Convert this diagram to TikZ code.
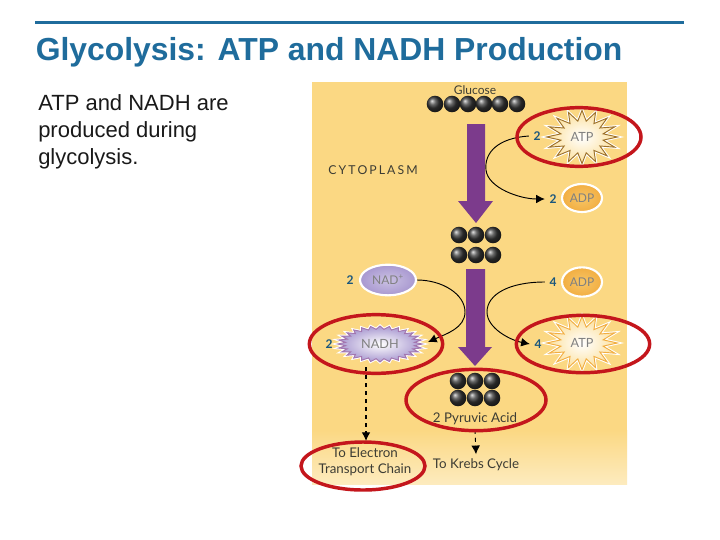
\documentclass[tikz,border=0pt]{standalone}
\usepackage{fontspec}
\setmainfont{Liberation Sans}
\newfontfamily\panelfont{Lato}
\usetikzlibrary{shapes.geometric, arrows.meta}
\definecolor{titleblue}{HTML}{1F6C9C}
\definecolor{panelyellow}{HTML}{FBD883}
\definecolor{panellight}{HTML}{FDEBBE}
\definecolor{ringred}{HTML}{C4161C}
\definecolor{arrowpurple}{HTML}{7C3B8C}
\definecolor{nadpurple}{HTML}{A898D0}
\definecolor{adporange}{HTML}{F2AE42}
\definecolor{labelgrey}{HTML}{3C3C34}
\tikzset{
	ring/.style = {draw = ringred, line width = 2.6pt, ellipse, inner sep = 0},
	ball/.style = {circle, inner sep = 0, minimum size = 12.4pt, ball color = black!78},
	flow/.style = {draw = black, line width = 0.7pt},
	tip/.style = {-{Latex[length = 6.5pt, width = 6.5pt]}},
	count/.style = {font = \panelfont\bfseries\fontsize{9}{9}\selectfont, text = titleblue!80!black},
	paneltext/.style = {font = \panelfont\fontsize{10}{12}\selectfont, text = labelgrey, align = center},
	bubble/.style = {ellipse, draw = white, line width = 1.6pt, inner sep = 0, font = \panelfont\fontsize{9}{9}\selectfont, text = black!50},
	burst/.style = {star, star points = #1, inner sep = 0, line width = 0.7pt,
		preaction = {draw = white, line width = 2.2pt}, transform shape},
	burstlabel/.style = {text = black!50, font = \panelfont\fontsize{9.5}{9.5}\selectfont},
}
\begin{document}
\begin{tikzpicture}[x = 0.75pt, y = -0.75pt]
\useasboundingbox (0, 0) rectangle (720, 539);
\fill[white] (0, 0) rectangle (720, 539);

% heading
\draw[titleblue, line width = 1.9pt] (35, 22.5) -- (684, 22.5);
\node[anchor = base west, inner sep = 0, text = titleblue, font = \bfseries\fontsize{23.9}{26}\selectfont] (heading) at (35.5, 60) {Glycolysis: ATP and NADH Production};
\node[anchor = north west, inner sep = 0, align = left, font = \fontsize{16.5}{20.4}\selectfont, text = black!90] (body) at (38, 94) {ATP and NADH are\\produced during\\glycolysis.};

% panel
\fill[panelyellow] (312, 82) rectangle (627, 430);
\shade[top color = panelyellow, bottom color = panellight] (312, 430) rectangle (627, 484);

% big arrows
\fill[arrowpurple] (467, 124) -- (485, 124) -- (485, 201) -- (493, 201) -- (476, 223) -- (458, 201) -- (467, 201) -- cycle;
\fill[arrowpurple] (466, 269) -- (485, 269) -- (485, 347) -- (492, 347) -- (475, 366) -- (458, 347) -- (466, 347) -- cycle;

% molecules
\foreach \x [count = \i] in {435, 452, 468, 484, 500, 517}
	\node[ball] (glucose\i) at (\x, 104) {};
\foreach \x [count = \i] in {459, 476, 493} {
	\node[ball] (midtop\i) at (\x, 235) {};
	\node[ball] (midbot\i) at (\x, 255) {};
}
\foreach \x [count = \i] in {458, 475, 492} {
	\node[ball] (pyrtop\i) at (\x, 381) {};
	\node[ball] (pyrbot\i) at (\x, 398) {};
}

% bubbles
\node[burst = 16, star point ratio = 1.65, minimum size = 40pt, xscale = 1.33, draw = black!35!adporange,
	inner color = white, outer color = panelyellow!80!white] (atptop) at (582, 137) {};
\node[burstlabel] (atptoplabel) at (582, 137) {ATP};
\node[burst = 16, star point ratio = 1.65, minimum size = 40pt, xscale = 1.33, draw = adporange,
	inner color = white, outer color = panelyellow!80!white] (atpbot) at (582, 343) {};
\node[burstlabel] (atpbotlabel) at (582, 343) {ATP};
\node[burst = 28, star point ratio = 1.22, minimum size = 27pt, xscale = 2.35, draw = arrowpurple!70,
	inner color = white, outer color = nadpurple] (nadh) at (380, 344) {};
\node[burstlabel] (nadhlabel) at (380, 344) {NADH};
\node[bubble, inner color = adporange!45!panelyellow, outer color = adporange, minimum width = 30pt, minimum height = 21pt] (adptop) at (582, 198) {ADP};
\node[bubble, inner color = adporange!45!panelyellow, outer color = adporange, minimum width = 30pt, minimum height = 22pt] (adpbot) at (582, 282) {ADP};
\node[bubble, inner color = nadpurple!60!white, outer color = nadpurple, minimum width = 42pt, minimum height = 23pt] (nad) at (388, 280) {NAD\textsuperscript{+}};

% counts
\node[count] (atptopnum) at (537, 136) {2};
\node[count] (adptopnum) at (553, 199) {2};
\node[count] (nadnum) at (350, 280) {2};
\node[count] (adpbotnum) at (553, 282) {4};
\node[count] (nadhnum) at (329, 344) {2};
\node[count] (atpbotnum) at (538, 344) {4};

% texts
\node[paneltext, font = \panelfont\fontsize{9}{10}\selectfont] (glucose) at (475, 90) {Glucose};
\node[paneltext, font = \panelfont\fontsize{9.2}{10}\selectfont] (cytoplasm) at (373, 170) {C\,Y\,T\,O\,P\,L\,A\,S\,M};
\node[paneltext] (pyruvic) at (475, 419) {2 Pyruvic Acid};
\node[paneltext] (krebs) at (476, 465) {To Krebs Cycle};
\node[paneltext] (electron) at (365, 462) {To Electron\\Transport Chain};

% connectors
\coordinate (nadhtip) at (428, 342);
\coordinate (nadhfoot) at (366, 367);
\coordinate (electrontip) at (366, 441);
\draw[flow, tip] (atptopnum.west) .. controls +(-30, 2) and +(-2, -18) ..
	(486, 170) .. controls +(2, 18) and +(-25, 0) ..
	(adptopnum.west);
\draw[flow, tip] (nad.east) .. controls +(25, 0) and +(0, -18) ..
	(465, 312) .. controls +(0, 16) and +(18, -8) ..
	(nadhtip);
\draw[flow, tip] (adpbotnum.west) .. controls +(-35, 0) and +(0, -18) ..
	(487, 312) .. controls +(0, 16) and +(-20, -4) ..
	(atpbotnum.west);
\draw[flow, tip, dashed, line width = 0.9pt] (nadhfoot) -- (electrontip);
\draw[flow, tip, dashed] (pyruvic.south) -- (krebs.north);

% rings
\node[ring, minimum width = 93pt, minimum height = 44pt] (ringatptop) at (579, 137) {};
\node[ring, minimum width = 100pt, minimum height = 44pt] (ringnadh) at (376, 344) {};
\node[ring, minimum width = 100pt, minimum height = 43pt] (ringatpbot) at (583, 344) {};
\node[ring, minimum width = 105pt, minimum height = 46pt] (ringpyruvic) at (476, 400) {};
\node[ring, minimum width = 93pt, minimum height = 36pt] (ringelectron) at (363, 466) {};
\end{tikzpicture}
\end{document}
